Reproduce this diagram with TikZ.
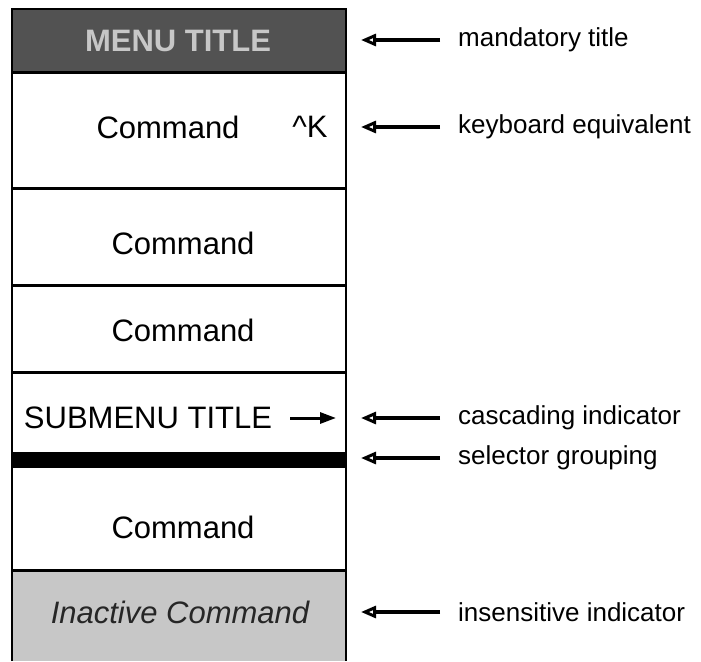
\documentclass[tikz,border=0pt]{standalone}
\usepackage{fontspec}
\setmainfont{Liberation Sans}
\usetikzlibrary{arrows.meta}
\begin{document}
\begin{tikzpicture}[x=1pt,y=-1pt,
  menutext/.style={font=\fontsize{31}{36}\selectfont, inner sep=0pt, anchor=center},
  labtext/.style={font=\fontsize{26}{30}\selectfont, inner sep=0pt, anchor=west},
  callout/.style={line width=3.2pt, -{Triangle[open,length=15pt,width=12pt,line width=3pt]}, shorten <=18pt, shorten >=15pt},
  rowrule/.style={line width=3pt},
  frame/.style={line width=2.5pt},
]
\useasboundingbox (0,0) rectangle (701,661);
% fills
\fill[black!68] (12,9) rectangle (346,72);
\fill[black!22] (12,570) rectangle (346,661);
\fill[black] (12,452) rectangle (346,468);
% row separators
\draw[rowrule] (12,72) -- (346,72);
\draw[rowrule] (12,188) -- (346,188);
\draw[rowrule] (12,285) -- (346,285);
\draw[rowrule] (12,372) -- (346,372);
\draw[rowrule] (12,570) -- (346,570);
% frame
\draw[frame] (12,661) -- (12,9) -- (346,9) -- (346,661);
\coordinate (mE) at (346,0);
% menu texts
\node[menutext, font=\fontsize{31}{36}\selectfont\bfseries, text=black!22] (title) at (178,41) {MENU TITLE};
\node[menutext] (c1) at (168,127) {Command};
\node[menutext] (key) at (310,127) {\textasciicircum K};
\node[menutext] (c2) at (183,243) {Command};
\node[menutext] (c3) at (183,330) {Command};
\node[menutext] (sub) at (148,418) {SUBMENU TITLE};
\node[menutext] (c5) at (183,527) {Command};
\node[menutext, font=\fontsize{31}{36}\selectfont\itshape, text=black!85] (inact) at (180,612) {Inactive Command};
% cascading arrow inside menu
\draw[line width=3pt, -{Triangle[length=16pt,width=11pt]}, shorten <=18pt, shorten >=10pt] (sub.east) -- (sub.east -| mE);
% labels
\node[labtext] (l1) at (458,40) {mandatory title};
\node[labtext] (l2) at (458,127) {keyboard equivalent};
\node[labtext] (l3) at (458,418) {cascading indicator};
\node[labtext] (l4) at (458,458) {selector grouping};
\node[labtext] (l5) at (458,612) {insensitive indicator};
\foreach \l in {l1,l2,l3,l4,l5}
  \draw[callout] (\l.west) -- (\l.west -| mE);
\end{tikzpicture}
\end{document}
